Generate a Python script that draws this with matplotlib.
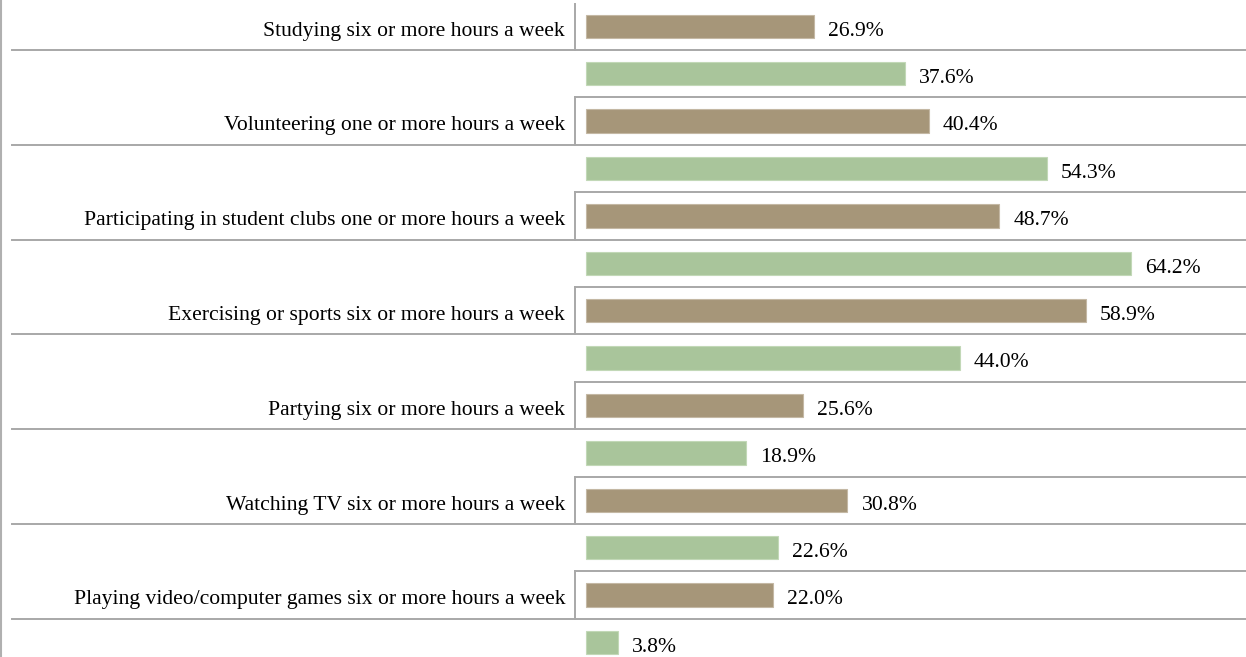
import matplotlib
matplotlib.use("Agg")
import matplotlib.pyplot as plt
from matplotlib.lines import Line2D

categories = [
    "Studying six or more hours a week",
    "Volunteering one or more hours a week",
    "Participating in student clubs one or more hours a week",
    "Exercising or sports six or more hours a week",
    "Partying six or more hours a week",
    "Watching TV six or more hours a week",
    "Playing video/computer games six or more hours a week",
]
brown_values = [26.9, 40.4, 48.7, 58.9, 25.6, 30.8, 22.0]
# green bar sits above each brown bar; the last one belongs to the next (cut off) category
green_values = [37.6, 54.3, 64.2, 44.0, 18.9, 22.6, 3.8]

BROWN = "#A69679"
GREEN = "#A9C59B"
LINE = "#A8A8A8"

W, H, DPI = 1246, 657, 100
fig = plt.figure(figsize=(W / DPI, H / DPI), dpi=DPI)
fig.patch.set_facecolor("white")

ax_left_px = 575
ax = fig.add_axes([ax_left_px / W, 0, 1 - ax_left_px / W, 1])
px_per_pct = 8.49
x0_px = 586
ax.set_xlim(-(x0_px - ax_left_px) / px_per_pct, (W - x0_px) / px_per_pct)
unit = 94.8
top_center = 26.3
ax.set_ylim((H - top_center) / unit, -top_center / unit)
ax.axis("off")

ypos_brown = list(range(len(categories)))
ypos_green = [y + 0.5 for y in ypos_brown]
bh = 0.245
ax.barh(ypos_brown, brown_values, height=bh, color=BROWN, edgecolor="#C4B8A4", linewidth=0.8, zorder=3)
ax.barh(ypos_green, green_values, height=bh, color=GREEN, edgecolor="#C2D8B7", linewidth=0.8, zorder=3)

font = dict(family=["Liberation Serif", "DejaVu Serif"], fontsize=15.6, color="#000000")
base = 9.3  # baseline offset in px below bar centre
for y, v in zip(ypos_brown, brown_values):
    ax.text(v + 14 / px_per_pct, y + base / unit, f"{v:.1f}%", va="baseline", ha="left", **font)
for y, v in zip(ypos_green, green_values):
    ax.text(v + 14 / px_per_pct, y + base / unit, f"{v:.1f}%", va="baseline", ha="left", **font)

trans_fig = fig.transFigure
for i, (y, lab) in enumerate(zip(ypos_brown, categories)):
    # category label in the left column
    yfig = 1 - (top_center + base + unit * y) / H
    fig.text(565 / W, yfig, lab, ha="right", va="baseline", **font)
    # bottom line of the row: full width
    yb = 1 - (top_center + unit * (y + 0.25)) / H
    fig.add_artist(Line2D([12 / W, 1], [yb, yb], transform=trans_fig, color=LINE, lw=1.4))
    # top line of the boxed row: from axis to right edge
    yt = 1 - (top_center + unit * (y - 0.25)) / H
    if i > 0:
        fig.add_artist(Line2D([ax_left_px / W, 1], [yt, yt], transform=trans_fig, color=LINE, lw=1.4))
    # vertical divider between label and bar
    fig.add_artist(Line2D([ax_left_px / W, ax_left_px / W], [min(yt, 1 - 4 / H), yb],
                          transform=trans_fig, color=LINE, lw=1.4))

# left border
fig.add_artist(Line2D([1.2 / W, 1.2 / W], [0, 1], transform=trans_fig, color="#B0B0B0", lw=1.5))

fig.savefig("out.png", dpi=DPI, facecolor="white")
